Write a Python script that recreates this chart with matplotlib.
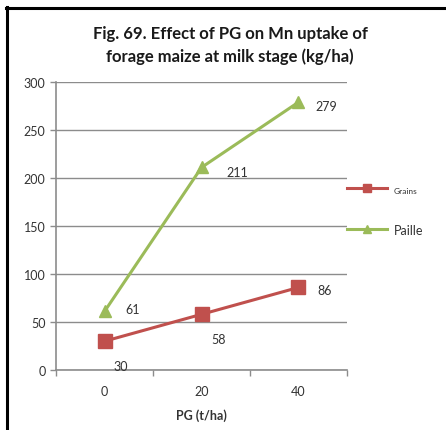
import numpy as np
import matplotlib.pyplot as plt
from matplotlib.lines import Line2D

pg_doses = ["0", "20", "40"]
grains = [30, 58, 86]
paille = [61, 211, 279]
y_ticks = [0, 50, 100, 150, 200, 250, 300]

red = "#C0504D"
green = "#9BBB59"
grid_col = "#8C8C8C"

plt.rcParams['font.family'] = ['Lato', 'DejaVu Sans']

fig = plt.figure(figsize=(4.46, 4.31), dpi=100)
ax = fig.add_axes([0.1256, 0.1392, 0.6524, 0.6682])

x = np.arange(len(pg_doses))
ax.plot(x, grains, color=red, lw=2.2, marker="s", ms=10, label="Grains", zorder=3)
ax.plot(x, paille, color=green, lw=2.2, marker="^", ms=9, label="Paille", zorder=3)

# value labels
for xi, v in zip(x, grains):
    if xi == 2:
        ax.annotate(str(v), (xi, v), xytext=(19, -2), textcoords="offset points",
                    fontsize=9, color="#333333", ha="center", va="center")
    else:
        ax.annotate(str(v), (xi, v), xytext=(12, -18), textcoords="offset points",
                    fontsize=9, color="#333333", ha="center", va="center")
for xi, v in zip(x, paille):
    dy = 2 if xi == 0 else -3
    dx = 26 if xi == 1 else 20
    ax.annotate(str(v), (xi, v), xytext=(dx, dy), textcoords="offset points",
                fontsize=9, color="#333333", ha="center", va="center")

ax.set_xlim(-0.5, 2.5)
ax.set_ylim(0, 300)
ax.set_yticks(y_ticks)
ax.set_xticks(x)
ax.set_xticklabels(pg_doses)
ax.set_xticks([-0.5, 0.5, 1.5, 2.5], minor=True)
ax.tick_params(axis="x", which="major", length=0, pad=11, labelsize=9, labelcolor="#333333")
ax.tick_params(axis="x", which="minor", length=4, color=grid_col, width=1)
ax.tick_params(axis="y", length=4, color=grid_col, width=1, labelsize=9, labelcolor="#333333")
ax.yaxis.grid(True, color=grid_col, lw=1)
ax.set_axisbelow(True)
for side in ["top", "right"]:
    ax.spines[side].set_visible(False)
for side in ["left", "bottom"]:
    ax.spines[side].set_color(grid_col)
    ax.spines[side].set_linewidth(1.2)

ax.set_xlabel("PG (t/ha)", fontsize=9, fontweight="bold", color="#333333", labelpad=8)

fig.text(0.516, 0.894, "Fig. 69. Effect of PG on Mn uptake of\nforage maize at milk stage (kg/ha)",
         ha="center", va="center", fontsize=12, fontweight="bold",
         color="#1a1a1a", linespacing=1.45)

leg = ax.legend(loc="center left", bbox_to_anchor=(0.96, 0.556), frameon=False,
                handlelength=3.2, labelspacing=2.4, handletextpad=0.6, fontsize=9)
leg.get_texts()[0].set_fontsize(6)
for t in leg.get_texts():
    t.set_color("#333333")
for h in leg.legend_handles:
    h.set_markersize(6)

# outer frame: left and top edges
fig.add_artist(Line2D([6.5 / 446, 6.5 / 446], [0, 1 - 8 / 431], transform=fig.transFigure,
                      color="black", lw=2.2))
fig.add_artist(Line2D([5.5 / 446, 1], [1 - 8.5 / 431, 1 - 8.5 / 431], transform=fig.transFigure,
                      color="black", lw=2.2))

fig.savefig("out.png", dpi=100)
